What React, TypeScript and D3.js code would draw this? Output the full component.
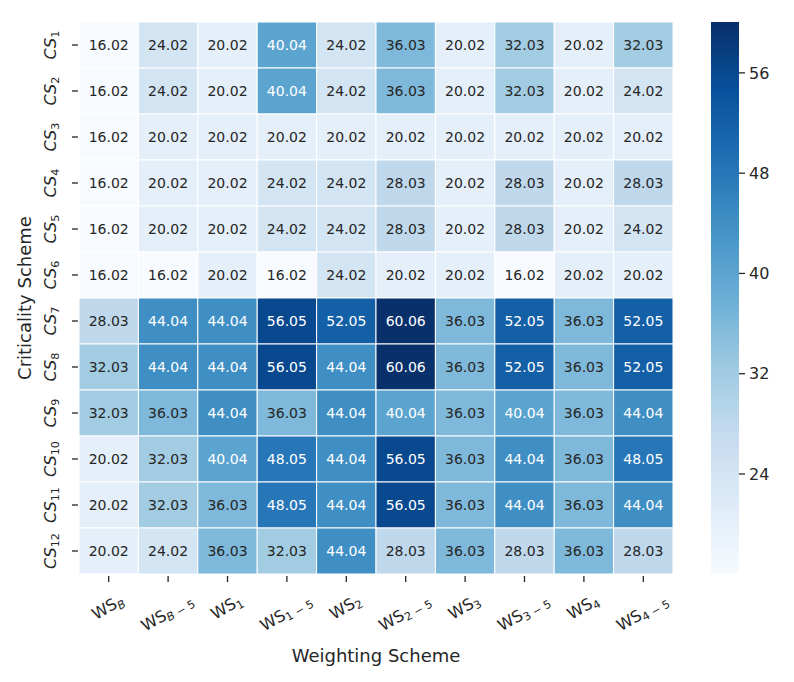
import { useMemo } from "react";
import * as d3 from "d3";

const WIDTH = 794;
const HEIGHT = 682;
const PLOT = { left: 79, top: 22, right: 673, bottom: 574 };
const CBAR = { left: 711, right: 739 };
const FONT = "'DejaVu Sans', sans-serif";
const INK = "#262626";

// column / row labels (subscripts only, base text is WS / CS)
const colSubs = ["B", "B−5", "1", "1−5", "2", "2−5", "3", "3−5", "4", "4−5"];
const rowSubs = ["1", "2", "3", "4", "5", "6", "7", "8", "9", "10", "11", "12"];

const cs1 = [16.02, 24.02, 20.02, 40.04, 24.02, 36.03, 20.02, 32.03, 20.02, 32.03];
const cs2 = [16.02, 24.02, 20.02, 40.04, 24.02, 36.03, 20.02, 32.03, 20.02, 24.02];
const cs3 = [16.02, 20.02, 20.02, 20.02, 20.02, 20.02, 20.02, 20.02, 20.02, 20.02];
const cs4 = [16.02, 20.02, 20.02, 24.02, 24.02, 28.03, 20.02, 28.03, 20.02, 28.03];
const cs5 = [16.02, 20.02, 20.02, 24.02, 24.02, 28.03, 20.02, 28.03, 20.02, 24.02];
const cs6 = [16.02, 16.02, 20.02, 16.02, 24.02, 20.02, 20.02, 16.02, 20.02, 20.02];
const cs7 = [28.03, 44.04, 44.04, 56.05, 52.05, 60.06, 36.03, 52.05, 36.03, 52.05];
const cs8 = [32.03, 44.04, 44.04, 56.05, 44.04, 60.06, 36.03, 52.05, 36.03, 52.05];
const cs9 = [32.03, 36.03, 44.04, 36.03, 44.04, 40.04, 36.03, 40.04, 36.03, 44.04];
const cs10 = [20.02, 32.03, 40.04, 48.05, 44.04, 56.05, 36.03, 44.04, 36.03, 48.05];
const cs11 = [20.02, 32.03, 36.03, 48.05, 44.04, 56.05, 36.03, 44.04, 36.03, 44.04];
const cs12 = [20.02, 24.02, 36.03, 32.03, 44.04, 28.03, 36.03, 28.03, 36.03, 28.03];
const matrix = [cs1, cs2, cs3, cs4, cs5, cs6, cs7, cs8, cs9, cs10, cs11, cs12];

const cbarTicks = [24, 32, 40, 48, 56];

const BLUES = ["#f7fbff", "#deebf7", "#c6dbef", "#9ecae1", "#6baed6", "#4292c6", "#2171b5", "#08519c", "#08306b"];

function luminance(c: string) {
  const { r, g, b } = d3.rgb(c);
  const lin = (v: number) => {
    const s = v / 255;
    return s <= 0.03928 ? s / 12.92 : Math.pow((s + 0.055) / 1.055, 2.4);
  };
  return 0.2126 * lin(r) + 0.7152 * lin(g) + 0.0722 * lin(b);
}

// rough DejaVu Sans advance widths (em), minus gets operator spacing
function subWidth(s: string) {
  let w = 0;
  for (const ch of s) w += ch === "−" ? 0.838 + 0.6 : ch === "B" ? 0.686 : 0.636;
  return w;
}

function Sub({ text, size }: { text: string; size: number }) {
  const gap = size * 0.7 * 0.3;
  return (
    <tspan fontSize={size * 0.7} dy={size * 0.2}>
      {Array.from(text).map((ch, i) =>
        /[A-Z]/.test(ch) ? (
          <tspan key={i} fontStyle="italic">{ch}</tspan>
        ) : ch === "−" ? (
          <tspan key={i} dx={gap}>{ch}</tspan>
        ) : (
          <tspan key={i} dx={i > 0 && text[i - 1] === "−" ? gap : 0}>{ch}</tspan>
        )
      )}
    </tspan>
  );
}

export default function App() {
  const vmin = d3.min(matrix.flat()) ?? 0;
  const vmax = d3.max(matrix.flat()) ?? 1;

  const x = d3.scaleBand<number>().domain(d3.range(colSubs.length)).range([PLOT.left, PLOT.right]);
  const y = d3.scaleBand<number>().domain(d3.range(rowSubs.length)).range([PLOT.top, PLOT.bottom]);
  const cy = d3.scaleLinear().domain([vmin, vmax]).range([PLOT.bottom, PLOT.top]);

  const color = useMemo(
    () =>
      d3
        .scaleLinear<string>()
        .domain(BLUES.map((_, i) => vmin + ((vmax - vmin) * i) / (BLUES.length - 1)))
        .range(BLUES)
        .interpolate(d3.interpolateRgb),
    [vmin, vmax]
  );

  const stops = d3.range(0, 1.0001, 1 / 64);
  const tickSize = 16;
  const labelTop = PLOT.bottom + 19;

  return (
    <svg width={WIDTH} height={HEIGHT} style={{ display: "block", margin: "-8px" }} fontFamily={FONT}>
      <defs>
        <linearGradient id="cbar" x1="0" x2="0" y1="1" y2="0">
          {stops.map((t, i) => (
            <stop key={i} offset={t} stopColor={color(vmin + t * (vmax - vmin))} />
          ))}
        </linearGradient>
      </defs>
      <rect width={WIDTH} height={HEIGHT} fill="white" />

      {matrix.map((row, r) =>
        row.map((v, c) => {
          const fill = color(v);
          return (
            <g key={`${r}-${c}`}>
              <rect
                x={x(c)}
                y={y(r)}
                width={x.bandwidth()}
                height={y.bandwidth()}
                fill={fill}
                stroke="white"
                strokeWidth={1}
              />
              <text
                x={(x(c) ?? 0) + x.bandwidth() / 2}
                y={(y(r) ?? 0) + y.bandwidth() / 2}
                dy="0.36em"
                textAnchor="middle"
                fontSize={14}
                fill={luminance(fill) > 0.408 ? INK : "white"}
              >
                {v.toFixed(2)}
              </text>
            </g>
          );
        })
      )}

      {/* x ticks */}
      {colSubs.map((s, c) => {
        const cx = (x(c) ?? 0) + x.bandwidth() / 2;
        const w = tickSize * (0.989 + 0.635) + tickSize * 0.7 * subWidth(s);
        const h = 17;
        const rad = Math.PI / 6;
        const H = w * Math.sin(rad) + h * Math.cos(rad);
        return (
          <g key={s}>
            <line x1={cx} x2={cx} y1={PLOT.bottom + 2} y2={PLOT.bottom + 8} stroke={INK} strokeWidth={1.3} />
            <g transform={`translate(${cx},${labelTop + H / 2}) rotate(-30)`}>
              <text textAnchor="middle" y={3.5} fontSize={tickSize} fill={INK}>
                WS
                <Sub text={s} size={tickSize} />
              </text>
            </g>
          </g>
        );
      })}

      {/* y ticks */}
      {rowSubs.map((s, r) => {
        const yc = (y(r) ?? 0) + y.bandwidth() / 2;
        return (
          <g key={s}>
            <line x1={72} x2={78} y1={yc} y2={yc} stroke={INK} strokeWidth={1.3} />
            <g transform={`translate(56,${yc}) rotate(-90)`}>
              <text textAnchor="middle" fontSize={tickSize} fill={INK}>
                <tspan fontStyle="italic">CS</tspan>
                <Sub text={s} size={tickSize} />
              </text>
            </g>
          </g>
        );
      })}

      <text x={(PLOT.left + PLOT.right) / 2} y={662} textAnchor="middle" fontSize={18} fill={INK}>
        Weighting Scheme
      </text>
      <text
        transform={`translate(31,${(PLOT.top + PLOT.bottom) / 2}) rotate(-90)`}
        textAnchor="middle"
        fontSize={18}
        fill={INK}
      >
        Criticality Scheme
      </text>

      {/* colorbar */}
      <rect x={CBAR.left} y={PLOT.top} width={CBAR.right - CBAR.left} height={PLOT.bottom - PLOT.top} fill="url(#cbar)" />
      {cbarTicks.map((t) => (
        <g key={t} transform={`translate(${CBAR.right},${cy(t)})`}>
          <line x1={0} x2={6} stroke={INK} strokeWidth={1.3} />
          <text x={10} dy="0.36em" fontSize={tickSize} fill={INK}>
            {t}
          </text>
        </g>
      ))}
    </svg>
  );
}
